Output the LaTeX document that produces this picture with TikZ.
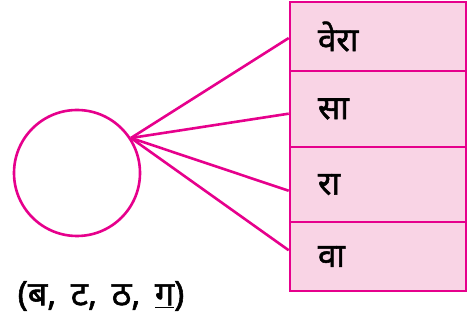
\documentclass[tikz,border=0pt]{standalone}
\usepackage{fontspec}
\newfontfamily\deva[Script=Devanagari,FakeBold=1.6]{Noto Sans}
\usetikzlibrary{positioning}
\definecolor{mgline}{RGB}{230,0,140}
\definecolor{mgfill}{RGB}{249,212,229}

\begin{document}
\begin{tikzpicture}[x=1pt,y=-1pt,line width=2.6pt,
    cell/.style={draw=mgline,fill=mgfill,minimum width=176pt,inner xsep=28pt,
      text width=120pt,align=left,font=\deva\fontsize{33}{34}\selectfont}]
  \useasboundingbox (0,0) rectangle (473,328);
  \node[circle,draw=mgline,minimum size=126pt,inner sep=0pt] (ring) at (77,173) {};
  \coordinate (hub) at (ring.33);
  % the four cells, top to bottom
  \foreach \n/\t/\yc/\h/\a in {1/वेरा/36.5/69/181, 2/सा/109/76/183, 3/रा/184.5/75/184, 4/वा/256.5/69/176}{
    \node[cell,minimum height=\h pt] (c\n) at (378,\yc) {\t};
    \draw[mgline] (hub) -- (c\n.\a);
  }
  \node[font=\deva\fontsize{34}{36}\selectfont] (lbl) at (101,296) {(ब,\, ट,\, ठ,\, \underline{ग})};
\end{tikzpicture}
\end{document}
